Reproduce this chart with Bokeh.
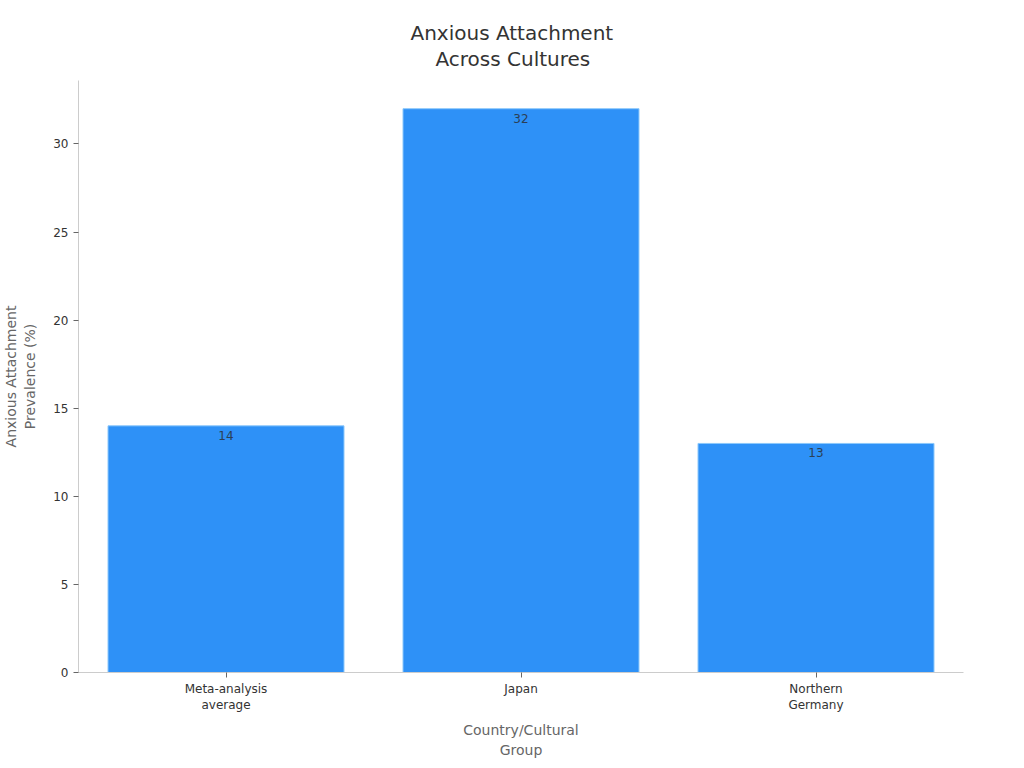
from bokeh.plotting import figure
from bokeh.models import ColumnDataSource, Range1d, FactorRange, SingleIntervalTicker, Title
from bokeh.embed import file_html
from bokeh.resources import INLINE
from bokeh.core.properties import value

categories = ["Meta-analysis\naverage", "Japan", "Northern\nGermany"]
prevalence = [14, 32, 13]
labels = ["14", "32", "13"]
title_lines = ["Anxious Attachment", "Across Cultures"]

src = ColumnDataSource(dict(cat=categories, val=prevalence, lab=labels))

FONT = "DejaVu Sans"

p = figure(
    x_range=FactorRange(*categories, range_padding=0),
    y_range=Range1d(0, 33.6),
    width=1000, height=760,
    output_backend="svg", toolbar_location=None,
    title=None,
    min_border_left=70, min_border_right=37, min_border_top=80, min_border_bottom=10,
)
p.outline_line_color = None
p.background_fill_color = "white"
p.border_fill_color = "white"

# spacer between the plot frame and the title block
p.add_layout(Title(text=" ", text_font_size="1px", standoff=7), "above")

# stack titles: first added is closest to the plot; left-aligned with offsets so
# each line is centred on the page
title_offsets = {"Anxious Attachment": 332, "Across Cultures": 357}
for line in reversed(title_lines):
    t = Title(text=line, align="left", text_font=FONT, text_font_size="20px",
              text_font_style="normal", text_color="#333333",
              standoff=0, offset=title_offsets[line])
    p.add_layout(t, "above")

p.vbar(x="cat", top="val", width=0.8, source=src,
       fill_color="#2E91F7", line_color="#8CC8FB", line_width=1)

p.text(x="cat", y="val", text="lab", source=src,
       text_align="center", text_baseline="top", y_offset=5,
       text_font=value(FONT), text_font_size="12px", text_color="#2b3f55")

p.xgrid.grid_line_color = None
p.ygrid.grid_line_color = None

p.yaxis.ticker = SingleIntervalTicker(interval=5)
for ax in (p.xaxis[0], p.yaxis[0]):
    ax.axis_line_color = "#cccccc"
    ax.major_tick_line_color = "#666666"
    ax.minor_tick_line_color = None
    ax.major_tick_out = 5
    ax.major_tick_in = 0
    ax.major_label_text_font = FONT
    ax.major_label_text_font_size = "12px"
    ax.major_label_text_color = "#333333"
    ax.axis_label_text_font = FONT
    ax.axis_label_text_font_size = "14px"
    ax.axis_label_text_font_style = "normal"
    ax.axis_label_text_color = "#666666"

p.xaxis.axis_label = "Country/Cultural\nGroup"
p.yaxis.axis_label = "Anxious Attachment\nPrevalence (%)"
p.xaxis.major_label_standoff = 4
p.xaxis.axis_label_standoff = 7
p.yaxis.axis_label_standoff = 12

open("out.html", "w").write(file_html(p, INLINE))
